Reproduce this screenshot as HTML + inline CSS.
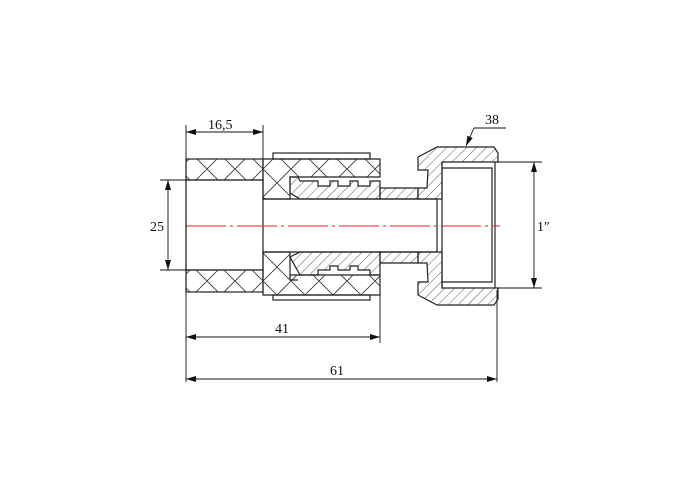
<!DOCTYPE html>
<html><head><style>body{margin:0;background:#fff}svg{display:block}text{font-family:"Liberation Serif",serif;font-size:14px;fill:#111}</style></head>
<body>
<svg width="700" height="500" viewBox="0 0 700 500">
<defs>
<pattern id="x" width="28" height="28" patternUnits="userSpaceOnUse" x="193" y="155">
<path d="M0 0L28 28M28 0L0 28" stroke="#333" stroke-width="0.8"/></pattern>
<pattern id="h" width="7" height="7" patternUnits="userSpaceOnUse" patternTransform="rotate(45)">
<path d="M0 0V7" stroke="#333" stroke-width="0.8"/></pattern>
<marker id="a" viewBox="0 0 10 6" refX="10" refY="3" markerWidth="10" markerHeight="6" orient="auto-start-reverse" markerUnits="userSpaceOnUse"><path d="M0 0L10 3L0 6z" fill="#111"/></marker>
</defs>
<g stroke="#222" stroke-width="1.2" fill="none">
<rect x="186" y="159" width="77" height="21" fill="url(#x)"/>
<rect x="186" y="270" width="77" height="22" fill="url(#x)"/>
<rect x="186" y="180" width="77" height="90"/>
<path d="M263 159H380V177H290V199H263Z" fill="url(#x)"/>
<path d="M263 252H290V275H380V295H263Z" fill="url(#x)"/>
<rect x="273" y="153" width="97" height="6"/>
<rect x="273" y="295" width="97" height="5"/>
<path d="M290 177H298L300 181H318V186H330V181H338V186H350V181H358V186H370V181H380V199H300L290 193Z" fill="url(#h)"/>
<path d="M290 257L300 252H380V275H370V270H358V266H350V270H338V266H330V270H318V275H300Z" fill="url(#h)"/>
<path d="M290 275V280H298" />
<path d="M380 188H418V199H380Z" fill="url(#h)"/>
<path d="M380 252H418V263H380Z" fill="url(#h)"/>
<path d="M418 157L437 147H494L498 153V162H442V199H418V188H427L428 170H418Z" fill="url(#h)"/>
<path d="M418 295L437 305H494L498 299V288H442V252H418V263H427L428 282H418Z" fill="url(#h)"/>
<path d="M442 162V288M495 162V288M442 168H492V282H442"/>
<line x1="263" y1="199" x2="437" y2="199"/>
<line x1="263" y1="252" x2="437" y2="252"/>
<line x1="437" y1="199" x2="437" y2="252"/>
</g>
<line x1="186" y1="226" x2="500" y2="226" stroke="#e22" stroke-width="1" stroke-dasharray="40,4,3,4"/>
<g stroke="#111" stroke-width="0.9" fill="none">
<path d="M186 125V382M263 125V159M380 295V343M497 290V382"/>
<line x1="186" y1="132" x2="263" y2="132" marker-start="url(#a)" marker-end="url(#a)"/>
<path d="M160 180H186M160 270H186"/>
<line x1="168" y1="180" x2="168" y2="270" marker-start="url(#a)" marker-end="url(#a)"/>
<path d="M497 162H542M497 288H542"/>
<line x1="534" y1="162" x2="534" y2="288" marker-start="url(#a)" marker-end="url(#a)"/>
<line x1="186" y1="337" x2="380" y2="337" marker-start="url(#a)" marker-end="url(#a)"/>
<line x1="186" y1="379" x2="497" y2="379" marker-start="url(#a)" marker-end="url(#a)"/>
<path d="M474 128H506"/>
<line x1="474" y1="128" x2="466" y2="146" marker-end="url(#a)"/>
</g>
<text x="208" y="129">16,5</text>
<text x="150" y="231">25</text>
<text x="537" y="231">1″</text>
<text x="485" y="124">38</text>
<text x="275" y="333">41</text>
<text x="330" y="375">61</text>
</svg>
</body></html>
